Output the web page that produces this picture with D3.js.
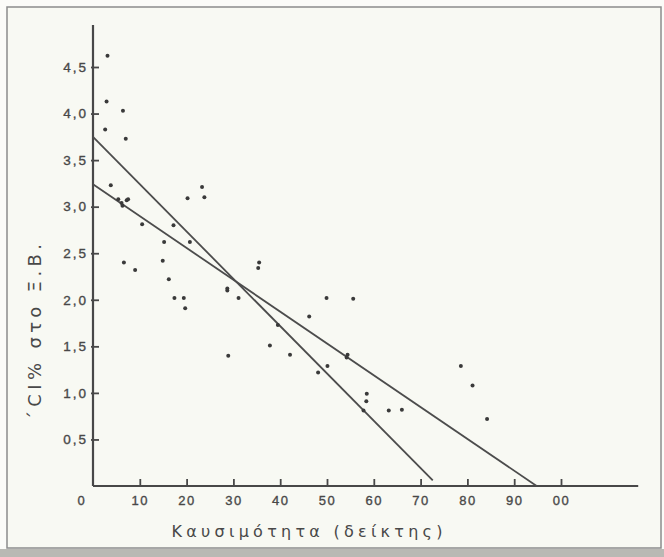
<!DOCTYPE html>
<html>
<head>
<meta charset="utf-8">
<script src="https://cdn.jsdelivr.net/npm/d3@7"></script>
<style>
  body { margin: 0; background: #fbfbf8; }
  svg { display: block; font-family: 'DejaVu Sans', sans-serif; }
</style>
</head>
<body>
<svg id="chart"></svg>
<script>
// scatter points: fuel index (x) vs Cl% dry weight (y)
let burnIndex = [3.1, 2.9, 6.4, 2.6, 7.0, 3.8, 5.4, 6.1, 6.3, 7.2, 7.5, 10.5, 15.2, 17.2, 20.2, 20.7,
  23.3, 23.8, 6.6, 9.0, 14.9, 16.2, 17.4, 19.4, 19.7, 28.7, 28.7, 31.1, 28.9, 35.3, 35.5, 49.9,
  55.6, 46.2, 39.5, 37.8, 42.1, 54.4, 54.2, 50.1, 48.1, 58.5, 58.4, 57.8, 63.2, 66.0, 78.6, 81.1, 84.2];
let chlorine = [4.62, 4.13, 4.03, 3.83, 3.73, 3.23, 3.08, 3.04, 3.01, 3.07, 3.08, 2.81, 2.62, 2.80, 3.09, 2.62,
  3.21, 3.10, 2.40, 2.32, 2.42, 2.22, 2.02, 2.02, 1.91, 2.12, 2.10, 2.02, 1.40, 2.34, 2.40, 2.02,
  2.01, 1.82, 1.73, 1.51, 1.41, 1.41, 1.38, 1.29, 1.22, 0.99, 0.91, 0.81, 0.81, 0.82, 1.29, 1.08, 0.72];

// the two fitted lines, as end points [x, y]
let lineSteep = [[0, 3.75], [72.6, 0.06]];
let lineShallow = [[0, 3.24], [94.8, 0]];

let xTicks = [10, 20, 30, 40, 50, 60, 70, 80, 90, 100];
let yTicks = [0.5, 1.0, 1.5, 2.0, 2.5, 3.0, 3.5, 4.0, 4.5];

let width = 664;
let height = 557;
let ink = '#484848';

let svg = d3.select('#chart').attr('width', width).attr('height', height);

// paper + frame
svg.append('rect').attr('x', 0).attr('y', 0).attr('width', width).attr('height', height).attr('fill', '#fbfbf8');
svg.append('rect').attr('x', 7).attr('y', 7).attr('width', 654).attr('height', 541)
  .attr('fill', '#f8f9f3').attr('stroke', '#8c8c8c').attr('stroke-width', 1.5);
svg.append('rect').attr('x', 0).attr('y', 549).attr('width', width).attr('height', 8).attr('fill', '#b9b9b4');

let x = d3.scaleLinear().domain([0, 100]).range([93, 561]);
let y = d3.scaleLinear().domain([0, 4.5]).range([486, 67]);

// x axis
let gx = svg.append('g').attr('transform', `translate(0,${y(0)})`)
  .call(d3.axisBottom(x).tickValues(xTicks).tickSizeInner(-7).tickSizeOuter(0).tickPadding(10)
    .tickFormat((d) => (d === 100 ? '00' : d)));
gx.select('.domain').remove();
gx.selectAll('.tick line').attr('stroke', ink).attr('stroke-width', 1.8);
gx.selectAll('.tick text').attr('fill', ink).attr('font-size', 13).attr('letter-spacing', 1.5)
  .attr('stroke', ink).attr('stroke-width', 0.35);
gx.append('text').attr('x', x(0) - 12).attr('y', 10).attr('dy', '0.71em')
  .attr('text-anchor', 'middle').attr('fill', ink).attr('font-size', 13)
  .attr('stroke', ink).attr('stroke-width', 0.35).text('0');
gx.append('line').attr('x1', x(0)).attr('x2', x(116.5)).attr('y1', 0).attr('y2', 0)
  .attr('stroke', ink).attr('stroke-width', 2.2);

// y axis
let gy = svg.append('g').attr('transform', `translate(${x(0)},0)`)
  .call(d3.axisLeft(y).tickValues(yTicks).tickSizeInner(-6).tickSizeOuter(0).tickPadding(5)
    .tickFormat((d) => d3.format('.1f')(d).replace('.', ',')));
gy.select('.domain').remove();
gy.selectAll('.tick line').attr('stroke', ink).attr('stroke-width', 1.8).attr('x1', -2);
gy.selectAll('.tick text').attr('fill', ink).attr('font-size', 13.5).attr('letter-spacing', 2)
  .attr('stroke', ink).attr('stroke-width', 0.35);
gy.append('line').attr('x1', 0).attr('x2', 0).attr('y1', y(0)).attr('y2', y(4.95))
  .attr('stroke', ink).attr('stroke-width', 2.2);

// fitted lines
let line = d3.line().x((d) => x(d[0])).y((d) => y(d[1]));
svg.selectAll('.fit')
  .data([lineSteep, lineShallow])
  .enter()
  .append('path')
  .attr('class', 'fit')
  .attr('d', line)
  .attr('fill', 'none')
  .attr('stroke', '#4c4c4c')
  .attr('stroke-width', 1.8);

// points
svg.selectAll('.pt')
  .data(burnIndex)
  .enter()
  .append('circle')
  .attr('class', 'pt')
  .attr('cx', (d) => x(d))
  .attr('cy', (d, i) => y(chlorine[i]))
  .attr('r', 2)
  .attr('fill', '#3a3a3a');

// axis titles
svg.append('text')
  .attr('transform', 'translate(41,332) rotate(-90)')
  .attr('text-anchor', 'middle')
  .attr('fill', ink)
  .attr('font-size', 18)
  .attr('textLength', 176)
  .attr('lengthAdjust', 'spacing')
  .text('΄CI% στο Ξ.Β.');

svg.append('text')
  .attr('x', 307)
  .attr('y', 537)
  .attr('text-anchor', 'middle')
  .attr('fill', ink)
  .attr('font-size', 16)
  .attr('textLength', 271)
  .attr('lengthAdjust', 'spacing')
  .text('Καυσιμότητα (δείκτης)');
</script>
</body>
</html>
